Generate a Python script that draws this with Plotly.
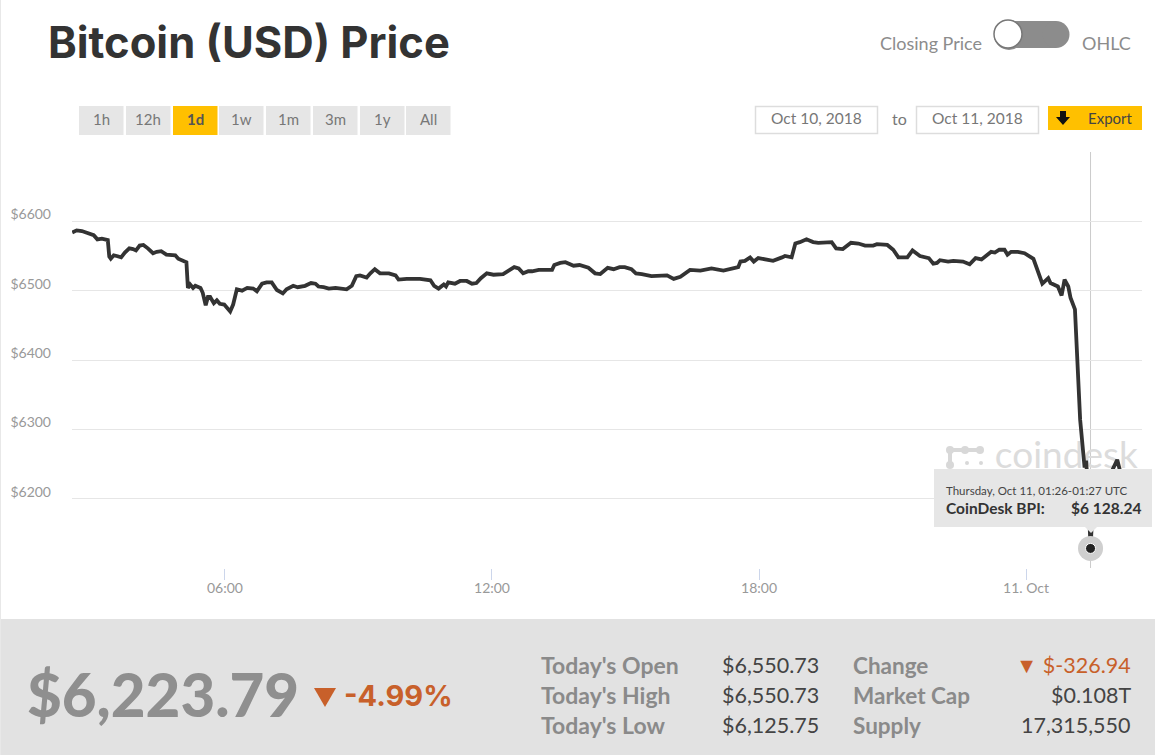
import plotly.graph_objects as go

W = 1155
H = 755

# price readings, closing price per time of day
times_oct10 = ["02:34", "02:40", "02:47", "02:54", "03:03", "03:08", "03:14", "03:22", "03:24", "03:26",
               "03:30", "03:34", "03:40", "03:45", "03:51", "03:56", "04:00", "04:05", "04:10", "04:16",
               "04:23", "04:28", "04:34", "04:41", "04:53", "04:57", "05:08", "05:10", "05:13", "05:17",
               "05:20", "05:27", "05:30", "05:34", "05:37", "05:40", "05:45", "05:49", "05:53", "05:59",
               "06:03", "06:07", "06:11", "06:16", "06:23", "06:30", "06:38", "06:43", "06:50", "06:56",
               "07:03", "07:10", "07:18", "07:23", "07:32", "07:38", "07:48", "07:56", "08:02", "08:06",
               "08:13", "08:20", "08:29", "08:44", "08:51", "08:57", "09:02", "09:11", "09:16", "09:22",
               "09:29", "09:41", "09:50", "09:54", "10:05", "10:23", "10:37", "10:42", "10:48", "10:55",
               "10:58", "11:01", "11:10", "11:17", "11:26", "11:33", "11:39", "11:45", "11:53", "12:02",
               "12:15", "12:24", "12:30", "12:36", "12:42", "12:49", "12:54", "13:03", "13:21", "13:24",
               "13:32", "13:39", "13:50", "13:58", "14:10", "14:19", "14:26", "14:36", "14:44", "14:52",
               "14:59", "15:08", "15:14", "15:22", "15:35", "15:56", "16:05", "16:14", "16:27", "16:41",
               "16:56", "17:12", "17:26", "17:32", "17:35", "17:41", "17:48", "17:53", "17:59", "18:19",
               "18:31", "18:35", "18:44", "18:49", "18:55", "19:04", "19:13", "19:20", "19:38", "19:44",
               "19:53", "20:04", "20:14", "20:23", "20:34", "20:39", "20:53", "21:01", "21:08", "21:20",
               "21:27", "21:37", "21:49", "21:55", "22:00", "22:04", "22:15", "22:22", "22:35", "22:44",
               "22:52", "23:00", "23:13", "23:18", "23:24", "23:31", "23:35", "23:40", "23:49", "23:58"]
prices_oct10 = [6584, 6587, 6586, 6584, 6580, 6574, 6575, 6573, 6549, 6546,
                6551, 6550, 6548, 6555, 6561, 6560, 6558, 6565, 6566, 6561,
                6554, 6556, 6557, 6552, 6551, 6546, 6541, 6504, 6509, 6504,
                6507, 6504, 6497, 6479, 6491, 6491, 6482, 6486, 6481, 6480,
                6474, 6470, 6480, 6502, 6500, 6504, 6503, 6499, 6510, 6512,
                6512, 6501, 6496, 6502, 6507, 6505, 6507, 6511, 6510, 6506,
                6505, 6503, 6504, 6502, 6507, 6521, 6522, 6519, 6525, 6531,
                6525, 6525, 6522, 6516, 6517, 6517, 6515, 6507, 6503, 6509,
                6506, 6512, 6510, 6514, 6514, 6510, 6511, 6518, 6525, 6523,
                6524, 6531, 6534, 6532, 6525, 6528, 6528, 6530, 6530, 6537,
                6540, 6541, 6536, 6537, 6533, 6525, 6524, 6533, 6531, 6534,
                6534, 6531, 6525, 6524, 6521, 6522, 6517, 6520, 6530, 6529,
                6532, 6529, 6533, 6534, 6542, 6543, 6548, 6542, 6547, 6543,
                6548, 6550, 6548, 6568, 6570, 6574, 6570, 6569, 6570, 6561,
                6560, 6569, 6568, 6565, 6565, 6567, 6566, 6559, 6548, 6548,
                6558, 6550, 6547, 6539, 6540, 6544, 6542, 6543, 6542, 6538,
                6547, 6545, 6556, 6555, 6559, 6559, 6552, 6556, 6556, 6554]
times_oct11 = ["00:10", "00:16", "00:22", "00:25", "00:30", "00:33", "00:43", "00:48", "00:52", "00:57",
               "01:00", "01:06", "01:08", "01:10", "01:13", "01:19", "01:21", "01:24", "01:27", "01:30",
               "01:40", "01:55", "02:03", "02:08", "02:15", "02:36"]
prices_oct11 = [6546, 6528, 6510, 6513, 6518, 6511, 6506, 6493, 6516, 6506,
                6490, 6473, 6432, 6371, 6314, 6245, 6255, 6210, 6128.24, 6190,
                6215, 6238, 6256, 6235, 6225, 6223.79]

y_ticks = [6200, 6300, 6400, 6500, 6600]
y_labels = ["$6200", "$6300", "$6400", "$6500", "$6600"]
x_ticks = ["2018-10-10 06:00", "2018-10-10 12:00", "2018-10-10 18:00", "2018-10-11 00:00"]
x_labels = ["06:00", "12:00", "18:00", "11. Oct"]

range_buttons = ["1h", "12h", "1d", "1w", "1m", "3m", "1y", "All"]
button_left = [79, 126, 173, 219, 266, 313, 360, 406]
stat_names_1 = ["Today's Open", "Today's High", "Today's Low"]
stat_values_1 = ["$6,550.73", "$6,550.73", "$6,125.75"]
stat_names_2 = ["Change", "Market Cap", "Supply"]
stat_values_2 = ["\u25BC $-326.94", "$0.108T", "17,315,550"]

hover_time = "2018-10-11 01:27"
hover_price = 6128.24

FONT = "Lato"
HEAVY = "Inter"
YELLOW = "#ffc000"
ORANGE = "#c8602a"


def fx(px):
    return px / W


def fy(py):
    return 1 - py / H


def box(x0, y0, x1, y1, fill, line=None, width=0, layer="below"):
    return dict(type="rect", xref="paper", yref="paper", x0=fx(x0), x1=fx(x1), y0=fy(y0), y1=fy(y1),
                fillcolor=fill, line=dict(color=line, width=width), layer=layer)


def label(text, x, y, size, color, anchor="left", bold=False, family=FONT, weight=None):
    font = dict(family=family, size=size, color=color)
    if weight:
        font["weight"] = weight
    return dict(text="<b>%s</b>" % text if bold else text, xref="paper", yref="paper", x=fx(x), y=fy(y),
                xanchor=anchor, yanchor="middle", showarrow=False, borderpad=0, font=font)


def path(points, fill, layer="below"):
    d = "M" + " L".join("%f,%f" % (fx(a), fy(b)) for a, b in points) + " Z"
    return dict(type="path", xref="paper", yref="paper", path=d, fillcolor=fill, line=dict(width=0), layer=layer)


def dot(cx, cy, r, fill, line=None, width=0, layer="below"):
    return dict(type="circle", xref="paper", yref="paper", x0=fx(cx - r), x1=fx(cx + r), y0=fy(cy + r), y1=fy(cy - r),
                fillcolor=fill, line=dict(color=line, width=width), layer=layer)


x_values = ["2018-10-10 " + t for t in times_oct10] + ["2018-10-11 " + t for t in times_oct11]
y_values = prices_oct10 + prices_oct11

fig = go.Figure()

# watermark sits under the price line
fig.add_trace(go.Scatter(x=["2018-10-10 23:18"], y=[6258], mode="text", text=["coindesk"], textposition="middle right",
                         textfont=dict(family=FONT, size=37, color="#dcdcdc"), hoverinfo="skip"))
fig.add_trace(go.Scatter(x=x_values, y=y_values, mode="lines", line=dict(color="#333333", width=3.8), hoverinfo="skip"))
fig.add_trace(go.Scatter(x=[hover_time], y=[hover_price], mode="markers",
                         marker=dict(size=25, color="#cfcfcf"), hoverinfo="skip"))
fig.add_trace(go.Scatter(x=[hover_time], y=[hover_price], mode="markers",
                         marker=dict(size=10, color="#222222", line=dict(color="#ffffff", width=1)), hoverinfo="skip"))

shapes = []
notes = []

shapes.append(box(0, 0, 1, H, "#e8e8e8"))

# title and toggle
notes.append(label("Bitcoin (USD) Price", 47, 42, 43.5, "#333333", bold=True, family=HEAVY))
notes.append(label("Closing Price", 983, 43, 18, "#8c8c8c", "right"))
notes.append(label("OHLC", 1081, 43, 18, "#8c8c8c"))
shapes.append(dict(type="rect", xref="paper", yref="paper", x0=fx(1008), x1=fx(1056), y0=fy(48), y1=fy(21),
                   fillcolor="#8c8c8c", line=dict(width=0), layer="below"))
shapes.append(dot(1056, 34.5, 13.5, "#8c8c8c"))
shapes.append(dot(1009, 35, 15, "#8c8c8c"))
shapes.append(dot(1008, 34, 14, "#ffffff", "#777777", 1.5))

# range buttons
for name, left in zip(range_buttons, button_left):
    active = name == "1d"
    shapes.append(box(left, 106, left + 44.5, 135, YELLOW if active else "#e6e6e6"))
    notes.append(label(name, left + 22, 119, 15, "#555555" if active else "#777777", "center", bold=active))

# date inputs and export
shapes.append(box(755.5, 106.5, 877.5, 133.5, "#ffffff", "#dddddd", 1.5))
shapes.append(box(916.5, 106.5, 1038.5, 133.5, "#ffffff", "#dddddd", 1.5))
notes.append(label("Oct 10, 2018", 816, 118, 15.5, "#777777", "center"))
notes.append(label("to", 899, 119, 16, "#777777", "center"))
notes.append(label("Oct 11, 2018", 977, 118, 15.5, "#777777", "center"))
shapes.append(box(1048, 106, 1142, 130, YELLOW))
shapes.append(path([(1060, 111), (1066, 111), (1066, 117), (1070, 117), (1063, 125), (1056, 117), (1060, 117)], "#111111"))
notes.append(label("Export", 1110, 118, 15, "#444444", "center"))

# coindesk logo marks
shapes.append(dict(type="line", xref="paper", yref="paper", x0=fx(950), x1=fx(980), y0=fy(450), y1=fy(450),
                   line=dict(color="#d8d8d8", width=4), layer="below"))
shapes.append(dict(type="line", xref="paper", yref="paper", x0=fx(950), x1=fx(950), y0=fy(450), y1=fy(466),
                   line=dict(color="#d8d8d8", width=4), layer="below"))
shapes.append(dot(950, 450, 4, "#d8d8d8"))
shapes.append(dot(965, 450, 4, "#d8d8d8"))
shapes.append(dot(980, 450, 4, "#d8d8d8"))
shapes.append(dot(950, 465, 4, "#d8d8d8"))
shapes.append(dot(967, 463, 2, "#d8d8d8"))
shapes.append(dot(981, 463, 2, "#d8d8d8"))

# crosshair and tooltip
shapes.append(dict(type="line", xref="x", yref="paper", x0=hover_time, x1=hover_time, y0=fy(568), y1=fy(152),
                   line=dict(color="#cccccc", width=1), layer="below"))
shapes.append(box(934, 469, 1152, 527, "#e6e6e6", layer="above"))
shapes.append(path([(1085, 527), (1097, 527), (1091, 533)], "#e6e6e6", layer="above"))
notes.append(label("Thursday, Oct 11, 01:26-01:27 UTC", 945, 490, 11.5, "#444444"))
notes.append(label("CoinDesk BPI:", 945, 508, 15.5, "#333333", bold=True))
notes.append(label("$6 128.24", 1142, 508, 15.5, "#333333", "right", bold=True))

# bottom panel
shapes.append(box(1, 619, W, H, "#e2e2e2"))
notes.append(label("$6,223.79", 26, 694, 60, "#8f8f8f", weight=900))
shapes.append(path([(314, 688), (336, 688), (325, 707)], ORANGE))
notes.append(label("-4.99%", 343, 695, 29, ORANGE, bold=True, family=HEAVY))
for i, row_y in enumerate([665, 695, 725]):
    notes.append(label(stat_names_1[i], 540, row_y, 23, "#8a8a8a", bold=True))
    notes.append(label(stat_values_1[i], 820, row_y, 21.5, "#444444", "right"))
    notes.append(label(stat_names_2[i], 852, row_y, 22.5, "#8a8a8a", bold=True))
    notes.append(label(stat_values_2[i], 1132, row_y, 21.5, ORANGE if i == 0 else "#444444", "right"))

fig.update_layout(
    width=W,
    height=H,
    margin=dict(l=0, r=0, t=0, b=0),
    paper_bgcolor="#ffffff",
    plot_bgcolor="#ffffff",
    showlegend=False,
    shapes=shapes,
    annotations=notes,
    xaxis=dict(domain=[fx(72), fx(1142)], range=["2018-10-10 02:33:44", "2018-10-11 02:36:24"], type="date",
               tickmode="array", tickvals=x_ticks, ticktext=x_labels, showgrid=False, zeroline=False,
               ticks="outside", ticklen=11, tickcolor="#ccd6eb", ticklabelstandoff=-4,
               tickfont=dict(family=FONT, size=14, color="#999999"), showline=False),
    yaxis=dict(domain=[fy(568), fy(152)], range=[6100, 6700], tickmode="array", tickvals=[6100] + y_ticks + [6700],
               ticktext=[""] + y_labels + [""], showgrid=True, gridcolor="#e6e6e6", gridwidth=1, zeroline=False,
               ticks="", ticklabelposition="outside top", ticklabelstandoff=20, ticklabelshift=3,
               tickfont=dict(family=FONT, size=14, color="#999999"), showline=False),
)

# the page's default body margin would push the 1155x755 figure out of the window
fig.write_html("out.html", config={"displayModeBar": False}, post_script="document.body.style.margin='0';")
